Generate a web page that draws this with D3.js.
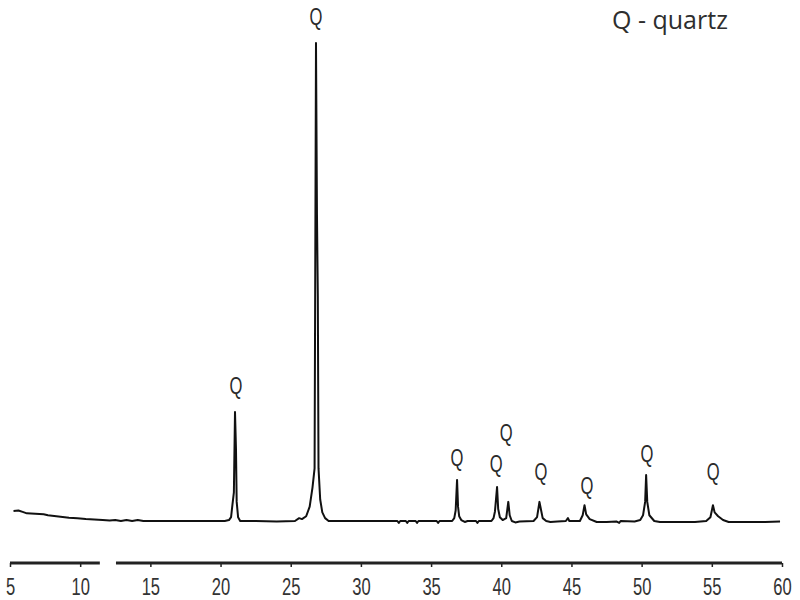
<!DOCTYPE html>
<html>
<head>
<meta charset="utf-8">
<script src="https://cdn.jsdelivr.net/npm/d3@7/dist/d3.min.js"></script>
<style>
  html, body { margin: 0; padding: 0; background: #fff; }
  svg { display: block; }
</style>
</head>
<body>
<script>
// ---- data (2θ in degrees, intensity in arbitrary units) ----
const twoTheta = [5.25, 5.6, 5.9, 6.2, 6.8, 7.4, 7.7, 8.0, 8.6, 9.2, 9.8, 10.4, 11.0, 11.6, 12.1, 12.5, 12.9, 13.3, 13.7, 14.1, 14.5, 15.5, 17, 19, 20.3, 20.6, 20.75, 20.85, 20.95, 21.03, 21.1, 21.15, 21.25, 21.4, 22.5, 24, 25.3, 25.6, 25.8, 26.1, 26.35, 26.55, 26.7, 26.8, 26.87, 26.93, 26.98, 27.1, 27.25, 27.45, 27.7, 29, 31, 32.6, 32.7, 32.8, 33.2, 33.3, 33.4, 33.9, 34.0, 34.1, 35.4, 35.5, 35.6, 36.5, 36.65, 36.75, 36.85, 36.92, 37.0, 37.15, 37.4, 37.6, 38.2, 38.3, 38.4, 39.3, 39.45, 39.55, 39.7, 39.78, 39.9, 40.1, 40.35, 40.5, 40.6, 40.75, 41.0, 41.3, 42.3, 42.55, 42.72, 42.82, 42.95, 43.2, 43.5, 44.0, 44.6, 44.75, 44.85, 45.6, 45.8, 45.93, 46.05, 46.3, 46.8, 47.5, 48.2, 48.4, 48.5, 49.5, 49.9, 50.1, 50.25, 50.32, 50.4, 50.55, 50.9, 51.3, 52.5, 53.8, 54.6, 54.9, 55.08, 55.2, 55.45, 55.8, 56.2, 57.5, 58.8, 59.86];
const intensity = [21, 22, 19, 16, 15, 14, 12, 11, 9, 7, 6, 4, 3, 2, 1, 2, 0, 2, 0, 2, 0, 0, 0, 0, 0, 2, 8, 35, 60, 228, 150, 40, 8, 0, 0, -1, 0, 6, 4, 10, 30, 70, 110, 1000, 640, 470, 110, 45, 18, 6, 0, 0, 0, 0, -4, 0, 0, -4, 0, 0, -4, 0, 0, -4, 0, 0, 6, 22, 86, 30, 10, 2, -2, 0, 0, -4, 0, 0, 6, 20, 71, 25, 8, 2, 6, 40, 12, 0, -3, -1, 0, 8, 40, 25, 6, 0, -2, -1, 0, 6, 0, 0, 12, 33, 14, 4, -2, -2, -1, -4, 0, -1, 2, 12, 40, 96, 40, 12, 0, -2, -2, -2, 0, 8, 33, 18, 10, 2, -2, -2, -2, -1];

// peak labels
const labelText = ["Q", "Q", "Q", "Q", "Q", "Q", "Q", "Q", "Q"];
const labelTheta = [21.1, 26.8, 36.85, 39.63, 40.35, 42.83, 46.1, 50.38, 55.1];
const labelLevel = [282, 1054, 132, 119, 184, 103, 73, 140, 103];

// axis
const tickValues = [5, 10, 15, 20, 25, 30, 35, 40, 45, 50, 55, 60];
const axisSegments = [[5, 11.4], [12.55, 60]];
const legendText = "Q - quartz";

// ---- drawing ----
const W = 800, H = 600;
const svg = d3.select("body").append("svg").attr("width", W).attr("height", H);

const x = d3.scaleLinear().domain([5, 60]).range([10, 782]);
const y = d3.scaleLinear().domain([0, 1000]).range([521, 43]);

const pts = twoTheta.map((t, i) => [t, intensity[i]]);

svg.append("path")
  .datum(pts)
  .attr("fill", "none")
  .attr("stroke", "#111")
  .attr("stroke-width", 2)
  .attr("stroke-linejoin", "round")
  .attr("d", d3.line().x(d => x(d[0])).y(d => y(d[1])));

// axis
const axisY = 563;
const axisG = svg.append("g").attr("transform", `translate(0,${axisY})`)
  .call(d3.axisBottom(x).tickValues(tickValues).tickSize(4).tickSizeOuter(0).tickPadding(12));
axisG.select(".domain").remove();
axisG.selectAll(".tick line").attr("stroke", "#222").attr("stroke-width", 1.5);
axisG.selectAll(".tick text")
  .attr("font-family", "'Liberation Sans', Arial, sans-serif")
  .attr("font-size", 23)
  .attr("fill", "#333")
  .attr("transform", "scale(0.72,1)");

svg.append("g").selectAll("line").data(axisSegments).join("line")
  .attr("x1", d => x(d[0])).attr("x2", d => x(d[1]))
  .attr("y1", axisY).attr("y2", axisY)
  .attr("stroke", "#222").attr("stroke-width", 3);

// peak labels
svg.append("g").selectAll("text").data(labelText).join("text")
  .attr("transform", (d, i) => `translate(${x(labelTheta[i])},${y(labelLevel[i])}) scale(0.72,1)`)
  .attr("text-anchor", "middle")
  .attr("dy", "0.36em")
  .attr("font-family", "'Liberation Sans', Arial, sans-serif")
  .attr("font-size", 23)
  .attr("fill", "#2a2a2a")
  .text(d => d);

// legend
svg.append("text")
  .attr("x", 612).attr("y", 29)
  .attr("font-family", "'Open Sans', sans-serif")
  .attr("font-size", 25)
  .attr("fill", "#2e2e2e")
  .text(legendText);
</script>
</body>
</html>
